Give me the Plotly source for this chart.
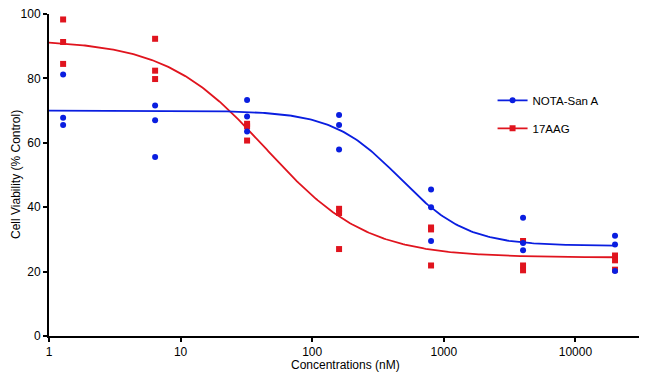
import numpy as np
import plotly.graph_objects as go

# ---- data ----
concentrations = [1.28, 6.4, 32, 160, 800, 4000, 20000]  # nM
nota_san_a = [
    [81.2, 67.8, 65.5],
    [71.6, 67.0, 55.6],
    [73.3, 68.2, 63.5],
    [68.6, 65.5, 57.9],
    [45.5, 40.0, 29.5],
    [36.7, 28.9, 26.6],
    [31.1, 28.4, 20.2],
]
aag17 = [
    [98.3, 91.3, 84.5],
    [92.3, 82.4, 79.8],
    [65.9, 65.1, 60.7],
    [39.5, 38.2, 27.0],
    [33.7, 33.1, 21.9],
    [29.5, 21.9, 20.4],
    [25.0, 23.5, 20.6],
]
# fitted 4-parameter logistic curves: top, bottom, logIC50, hill slope
nota_fit = dict(top=70.0, bottom=28.0, logic50=2.666, hill=1.70)
aag_fit = dict(top=92.0, bottom=24.4, logic50=1.648, hill=1.14)
x_ticks = [1, 10, 100, 1000, 10000]
y_ticks = [0, 20, 40, 60, 80, 100]
x_title = "Concentrations (nM)"
y_title = "Cell Viability (% Control)"

BLUE = "#0A1EE0"
RED = "#E0141E"
FONT = "Liberation Sans, Arial, sans-serif"


def four_pl(x, p):
    lx = np.log10(x)
    return p["bottom"] + (p["top"] - p["bottom"]) / (1 + 10 ** ((lx - p["logic50"]) * p["hill"]))


def flat(series):
    xs, ys = [], []
    for c, reps in zip(concentrations, series):
        for v in reps:
            xs.append(c)
            ys.append(v)
    return xs, ys


xc = np.logspace(0, np.log10(concentrations[-1]), 300)

fig = go.Figure()

# red series (drawn first, underneath)
rx, ry = flat(aag17)
fig.add_trace(go.Scatter(x=xc, y=four_pl(xc, aag_fit), mode="lines",
                         line=dict(color=RED, width=1.8), showlegend=False, hoverinfo="skip"))
fig.add_trace(go.Scatter(x=rx, y=ry, mode="markers",
                         marker=dict(symbol="square", size=6, color=RED),
                         showlegend=False))
# blue series
bx, by = flat(nota_san_a)
fig.add_trace(go.Scatter(x=xc, y=four_pl(xc, nota_fit), mode="lines",
                         line=dict(color=BLUE, width=1.8), showlegend=False, hoverinfo="skip"))
fig.add_trace(go.Scatter(x=bx, y=by, mode="markers",
                         marker=dict(symbol="circle", size=6, color=BLUE),
                         showlegend=False))

# legend entries
fig.add_trace(go.Scatter(x=[None], y=[None], mode="lines+markers", name="NOTA-San A",
                         line=dict(color=BLUE, width=1.8),
                         marker=dict(symbol="circle", size=6, color=BLUE),
                         legendgroup="a", legendrank=1))
fig.add_trace(go.Scatter(x=[None], y=[None], mode="lines+markers", name="17AAG",
                         line=dict(color=RED, width=1.8),
                         marker=dict(symbol="square", size=6, color=RED),
                         legendgroup="b", legendrank=2))

# axis titles as annotations for precise placement
fig.add_annotation(text=x_title, xref="paper", yref="paper", x=0.5, y=0,
                   xanchor="center", yanchor="middle", yshift=-29,
                   showarrow=False, font=dict(family=FONT, size=12, color="black"))
fig.add_annotation(text=y_title, xref="paper", yref="paper", x=0, y=0.5,
                   xanchor="center", yanchor="middle", xshift=-33, textangle=-90,
                   showarrow=False, font=dict(family=FONT, size=12, color="black"))

# the page adds an 8px body margin, so the figure is sized to fit the window
fig.update_layout(
    width=639, height=366,
    margin=dict(l=41, r=5, t=6, b=38, autoexpand=False),
    paper_bgcolor="white", plot_bgcolor="white",
    font=dict(family=FONT, size=12, color="black"),
    showlegend=True,
    legend=dict(x=0.748, y=0.777, xanchor="left", yanchor="top",
                bgcolor="rgba(0,0,0,0)", tracegroupgap=9,
                traceorder="grouped", itemwidth=30,
                font=dict(family=FONT, size=11.5)),
    xaxis=dict(type="log", range=[0, 4.506], automargin=False,
               tickvals=x_ticks, ticktext=[str(v) for v in x_ticks],
               ticks="outside", ticklen=4, tickwidth=1.5, tickcolor="black",
               showline=True, linecolor="black", linewidth=2,
               showgrid=False, zeroline=False, ticklabeloverflow="allow",
               tickfont=dict(family=FONT, size=12)),
    yaxis=dict(range=[0, 100], tickvals=y_ticks, automargin=False,
               ticks="outside", ticklen=4, tickwidth=1.5, tickcolor="black",
               showline=True, linecolor="black", linewidth=2,
               showgrid=False, zeroline=False, ticklabeloverflow="allow",
               tickfont=dict(family=FONT, size=12)),
)

fig.write_html("out.html")
